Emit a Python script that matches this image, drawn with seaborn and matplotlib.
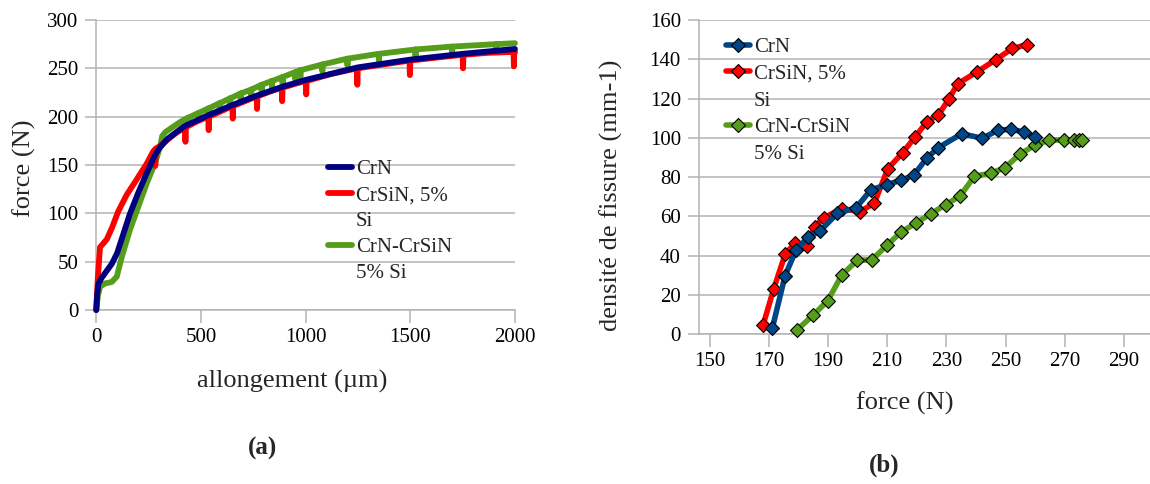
import matplotlib
matplotlib.use("Agg")
import matplotlib.pyplot as plt
import seaborn as sns
import pandas as pd
from matplotlib.lines import Line2D

# ---------------- data: panel (a) force vs allongement ----------------
crn_a_x = [0, 4, 10, 25, 45, 75, 100, 130, 160, 200, 240, 280, 300, 340, 420, 530, 650, 770, 890, 1000, 1250, 1500, 1750, 2000]
crn_a_y = [0, 15, 27, 33, 39, 48, 59, 79, 99, 121, 141, 160, 167, 177, 190, 201, 212, 222, 231, 238, 251, 259, 265, 270]

crsin_a_x = [0, 8, 18, 50, 75, 105, 145, 190, 240, 272, 280, 282, 284, 300, 340, 380,
             424, 426, 428, 480, 535, 537, 539, 600, 650, 652, 654, 710, 766, 768, 770, 830,
             886, 888, 890, 950, 1001, 1003, 1005, 1120, 1245, 1247, 1249, 1370,
             1496, 1498, 1500, 1620, 1750, 1752, 1754, 1870, 1993, 1995, 1997, 2000]
crsin_a_y = [0, 35, 65, 73, 85, 102, 119, 134, 151, 164, 166, 149, 167, 169, 176, 183,
             189, 174, 189, 195, 200, 186, 200, 206, 211, 198, 211, 216, 221, 208, 221, 226,
             230, 216, 230, 234, 237, 223, 237, 244, 250, 233, 250, 254,
             258, 243, 258, 261, 264, 250, 264, 266, 267, 252, 267, 267]

multi_a_x = [0, 8, 18, 42, 74, 98, 122, 161, 201, 241, 281, 305, 315, 330, 370, 405,
             439, 440, 441, 489, 490, 491, 539, 540, 541, 589, 590, 591, 639, 640, 641,
             689, 690, 691, 739, 740, 741, 789, 790, 791, 839, 840, 841, 889, 890, 891,
             949, 950, 951, 974, 975, 976, 1079, 1080, 1081, 1199, 1200, 1201,
             1349, 1350, 1351, 1524, 1525, 1526, 1699, 1700, 1701, 1909, 1910, 1911, 2000]
multi_a_y = [0, 15, 24, 27.5, 29, 34.5, 55, 83, 107, 131, 152, 169, 180, 184, 190, 195,
             199, 192, 199, 204, 197, 204, 209, 202, 209, 214, 207, 214, 219, 212, 219,
             224, 217, 224, 228, 221, 228, 233, 226, 233, 237, 230, 237, 241, 234, 241,
             246, 239, 246, 248, 241, 248, 254, 247, 254, 260, 253, 260,
             265, 258, 265, 269.5, 262, 269.5, 272.5, 264, 272.5, 275, 268, 275, 276]

# ---------------- data: panel (b) densité de fissure vs force ----------------
crn_b_force = [171.2, 175.5, 179.2, 183.3, 187.3, 193.2, 199.5, 204.5, 209.9, 214.7, 219.0,
               223.4, 227.3, 235.2, 242.1, 247.4, 252.0, 256.2, 259.9]
crn_b_dens = [3, 29.7, 42.8, 49.5, 52.5, 61.6, 64.4, 73.5, 76.2, 78.4, 81,
              89.7, 95, 102.1, 99.8, 103.8, 104.5, 102.8, 100.6]

crsin_b_force = [168.1, 171.7, 175.6, 178.9, 183.1, 185.5, 188.6, 194.8, 200.8, 205.7, 210.2,
                 215.2, 219.4, 223.4, 227.3, 230.8, 233.8, 240.3, 246.7, 252.3, 257.1]
crsin_b_dens = [4.7, 23.2, 41, 46.3, 45.2, 54.8, 59.3, 64, 62.4, 66.8, 84.2,
                92.4, 100.3, 108.2, 111.7, 119.6, 127.5, 133.5, 139.8, 145.5, 147.4]

multi_b_force = [179.7, 184.9, 189.9, 194.7, 199.9, 204.8, 209.9, 214.7, 219.8, 224.8, 229.8,
                 234.7, 239.5, 245.0, 249.8, 254.9, 259.9, 264.8, 269.9, 273.1, 274.7, 275.9]
multi_b_dens = [2.4, 9.6, 17, 30.2, 37.7, 37.8, 45.3, 52, 56.7, 61.4, 66,
                70.5, 80.5, 82, 84.8, 91.8, 96.2, 98.9, 98.9, 98.9, 98.9, 98.9]

a_xticks = [0, 500, 1000, 1500, 2000]
a_yticks = [0, 50, 100, 150, 200, 250, 300]
b_xticks = [150, 170, 190, 210, 230, 250, 270, 290]
b_yticks = [0, 20, 40, 60, 80, 100, 120, 140, 160]

labels = ["CrN", "CrSiN, 5%", "Si", "CrN-CrSiN", "5% Si"]

# ---------------- style ----------------
sns.set_theme(style="white")
plt.rcParams["font.family"] = ["Liberation Serif", "DejaVu Serif"]

GRID = "#b3b3b3"
NAVY = "#000080"
RED = "#ff0000"
GREEN = "#579d1c"
BLUE = "#004586"

fig = plt.figure(figsize=(11.5, 4.84), dpi=100)
ax1 = fig.add_axes([0.0837, 0.3595, 0.3641, 0.5992])
ax2 = fig.add_axes([0.6077, 0.3093, 0.3923, 0.6494])

# ---------------- panel (a) ----------------
df_a = pd.concat([
    pd.DataFrame({"x": multi_a_x, "y": multi_a_y, "s": "CrN-CrSiN"}),
    pd.DataFrame({"x": crsin_a_x, "y": crsin_a_y, "s": "CrSiN"}),
    pd.DataFrame({"x": crn_a_x, "y": crn_a_y, "s": "CrN"}),
])
for name, col, z in [("CrN-CrSiN", GREEN, 3), ("CrSiN", RED, 4), ("CrN", NAVY, 5)]:
    sub = df_a[df_a["s"] == name]
    sns.lineplot(data=sub, x="x", y="y", ax=ax1, color=col, lw=4.2, sort=False,
                 estimator=None, zorder=z, clip_on=False, solid_capstyle="round",
                 solid_joinstyle="round", legend=False)

ax1.set_xlim(0, 2000)
ax1.set_ylim(0, 300)
ax1.set_xticks(a_xticks)
ax1.set_yticks(a_yticks)
ax1.set_xlabel("allongement (µm)", fontsize=19)
ax1.set_ylabel("force (N)", fontsize=19)
ax1.xaxis.set_label_coords(0.468, -0.248)
ax1.yaxis.set_label_coords(-0.172, 0.49)

# ---------------- panel (b) ----------------
df_b = pd.concat([
    pd.DataFrame({"x": multi_b_force, "y": multi_b_dens, "s": "CrN-CrSiN"}),
    pd.DataFrame({"x": crsin_b_force, "y": crsin_b_dens, "s": "CrSiN"}),
    pd.DataFrame({"x": crn_b_force, "y": crn_b_dens, "s": "CrN"}),
])
for name, col, z in [("CrN-CrSiN", GREEN, 3), ("CrSiN", RED, 4), ("CrN", BLUE, 5)]:
    sub = df_b[df_b["s"] == name]
    sns.lineplot(data=sub, x="x", y="y", ax=ax2, color=col, lw=4.0, sort=False,
                 estimator=None, zorder=z, clip_on=False, marker="D", markersize=7.6,
                 markeredgecolor="black", markeredgewidth=0.8, markerfacecolor=col,
                 legend=False)

ax2.set_xlim(146.4, 298.8)
ax2.set_ylim(0, 160)
ax2.set_xticks(b_xticks)
ax2.set_yticks(b_yticks)
ax2.set_xlabel("force (N)", fontsize=19)
ax2.set_ylabel("densité de fissure (mm-1)", fontsize=19)
ax2.xaxis.set_label_coords(0.457, -0.2186)
ax2.yaxis.set_label_coords(-0.193, 0.443)

for ax in (ax1, ax2):
    ax.xaxis.label.set_va("center")
    ax.yaxis.label.set_va("center")
    ax.yaxis.grid(True, color=GRID, lw=1.1)
    ax.xaxis.grid(False)
    ax.set_axisbelow(True)
    for s in ("top", "right"):
        ax.spines[s].set_visible(False)
    for s in ("left", "bottom"):
        ax.spines[s].set_color(GRID)
        ax.spines[s].set_linewidth(1.1)
    ax.tick_params(axis="both", labelsize=15, colors="black", color=GRID,
                   width=1.1, direction="out")
    ax.tick_params(axis="x", length=9, pad=4, bottom=True)
    ax.tick_params(axis="y", length=8, pad=5, left=True)

# ---------------- legends ----------------
def legend_handles(cols, with_marker):
    hs = []
    for c in cols:
        if c is None:
            hs.append(Line2D([], [], color="none", lw=0))
        elif with_marker:
            hs.append(Line2D([], [], color=c, lw=4.0, marker="D", markersize=7.6,
                             markeredgecolor="black", markeredgewidth=0.8))
        else:
            hs.append(Line2D([], [], color=c, lw=4.2))
    return hs

ax1.legend(legend_handles([NAVY, RED, None, GREEN, None], False), labels,
           loc="upper left", bbox_to_anchor=(0.553, 0.518), frameon=False,
           fontsize=15, handlelength=1.15, handletextpad=0.2, labelspacing=0.3,
           borderpad=0, borderaxespad=0)
ax2.legend(legend_handles([BLUE, RED, None, GREEN, None], True), labels,
           loc="upper left", bbox_to_anchor=(0.06, 0.945), frameon=False,
           fontsize=15, handlelength=1.15, handletextpad=0.2, labelspacing=0.35,
           borderpad=0, borderaxespad=0)

fig.text(0.228, 0.0744, "(a)", fontsize=18, fontweight="bold", ha="center", va="center")
fig.text(0.769, 0.039, "(b)", fontsize=18, fontweight="bold", ha="center", va="center")

fig.savefig("out.png", dpi=100)
